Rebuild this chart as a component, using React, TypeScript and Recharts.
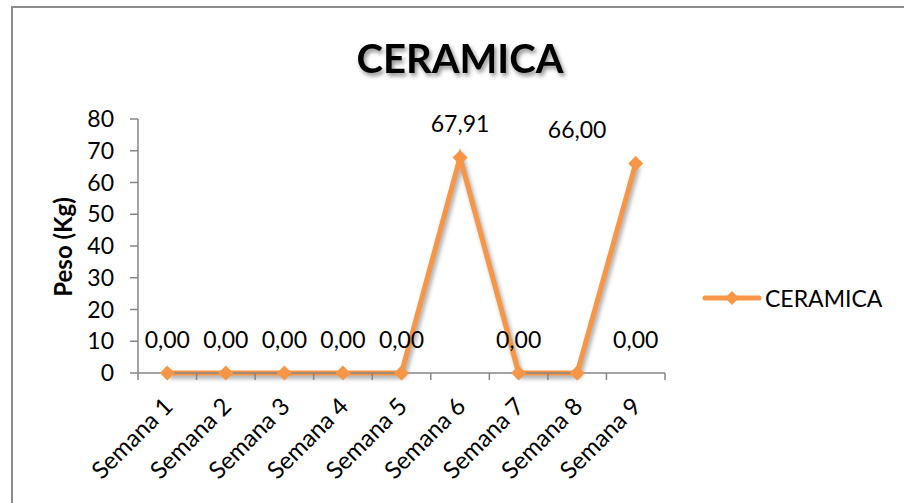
import React from 'react';
import { LineChart, Line, XAxis, YAxis, LabelList } from 'recharts';

const semanas = [
  'Semana 1',
  'Semana 2',
  'Semana 3',
  'Semana 4',
  'Semana 5',
  'Semana 6',
  'Semana 7',
  'Semana 8',
  'Semana 9',
];
const peso = [0, 0, 0, 0, 0, 67.91, 0, 0, 66];
// the data labels in the original sit on different values than the line
const etiquetas = [0, 0, 0, 0, 0, 67.91, 0, 66, 0];
const yTicks = [0, 10, 20, 30, 40, 50, 60, 70, 80];

const data = semanas.map((s, i) => ({
  semana: s,
  peso: peso[i],
  etiqueta: etiquetas[i],
}));

const NARANJA = '#F79646';
const GRIS = '#868686';
const FUENTE = 'Lato, "Open Sans", sans-serif';
const HALF_BAND = 527 / 9 / 2;

const fmt = (v: number) => v.toFixed(2).replace('.', ',');

const Diamante = ({ cx, cy, index }: any) => (
  <path
    key={`d-${index}`}
    d={`M${cx},${cy - 7.5} L${cx + 7.5},${cy} L${cx},${cy + 7.5} L${cx - 7.5},${cy} Z`}
    fill={NARANJA}
  />
);

const XTick = ({ x, y, payload, index }: any) => (
  <g>
    <line x1={x - HALF_BAND} x2={x - HALF_BAND} y1={y} y2={y + 7} stroke={GRIS} strokeWidth={1.5} />
    {index === semanas.length - 1 && (
      <line x1={x + HALF_BAND} x2={x + HALF_BAND} y1={y} y2={y + 7} stroke={GRIS} strokeWidth={1.5} />
    )}
    <text
      x={x + 7}
      y={y + 35}
      transform={`rotate(-45, ${x + 7}, ${y + 35})`}
      textAnchor="end"
      fontSize={24}
      fontFamily={FUENTE}
      fill="#000"
    >
      {payload.value}
    </text>
  </g>
);

export default function App() {
  return (
    <div style={{ position: 'absolute', left: 0, top: 0, width: 904, height: 503, background: '#fff' }}>
      <style>{`.serie .recharts-line-curve, .serie .recharts-line-dots path { filter: drop-shadow(2px 3px 2px rgba(0,0,0,0.35)); }`}</style>
      <LineChart
        width={904}
        height={503}
        data={data}
        margin={{ top: 119, right: 239, bottom: 0, left: 0 }}
      >
        <XAxis
          dataKey="semana"
          height={130}
          interval={0}
          padding={{ left: HALF_BAND, right: HALF_BAND }}
          tickLine={false}
          tickSize={0}
          tickMargin={0}
          axisLine={{ stroke: GRIS, strokeWidth: 1.5 }}
          tick={<XTick />}
        />
        <YAxis
          width={138}
          domain={[0, 80]}
          ticks={yTicks}
          interval={0}
          tickSize={8}
          tickMargin={16}
          axisLine={{ stroke: GRIS, strokeWidth: 1.5 }}
          tickLine={{ stroke: GRIS, strokeWidth: 1.5 }}
          tick={{ fill: '#000', fontSize: 23, fontFamily: FUENTE }}
        />
        <Line
          className="serie"
          type="linear"
          dataKey="peso"
          name="CERAMICA"
          stroke={NARANJA}
          strokeWidth={5}
          dot={<Diamante />}
          activeDot={false}
          isAnimationActive={false}
        />
        <Line
          type="linear"
          dataKey="etiqueta"
          stroke="none"
          dot={false}
          activeDot={false}
          legendType="none"
          isAnimationActive={false}
        >
          <LabelList
            dataKey="etiqueta"
            position="top"
            offset={25}
            formatter={(v: any) => fmt(Number(v))}
            fill="#000"
            fontSize={23}
            fontFamily={FUENTE}
          />
        </Line>
      </LineChart>
      <div
        style={{
          position: 'absolute',
          left: 702,
          top: 286,
          display: 'flex',
          alignItems: 'center',
          pointerEvents: 'none',
        }}
      >
        <svg width={60} height={24}>
          <line x1={3} x2={57} y1={12} y2={12} stroke={NARANJA} strokeWidth={5} strokeLinecap="round" />
          <path d="M30,5 L37,12 L30,19 L23,12 Z" fill={NARANJA} />
        </svg>
        <span style={{ fontFamily: FUENTE, fontSize: 23, color: '#000', marginLeft: 3, lineHeight: '24px' }}>
          CERAMICA
        </span>
      </div>
      <svg
        width={904}
        height={503}
        style={{ position: 'absolute', left: 0, top: 0, pointerEvents: 'none' }}
      >
        <defs>
          <filter id="sombra" x="-10%" y="-30%" width="130%" height="180%">
            <feDropShadow dx={2} dy={3} stdDeviation={2} floodColor="#000" floodOpacity={0.45} />
          </filter>
        </defs>
        <rect x={12} y={7} width={1000} height={1000} fill="none" stroke="#8c8c8c" strokeWidth={2} />
        <text
          x={460}
          y={73}
          textAnchor="middle"
          fontSize={40}
          fontWeight={700}
          fontFamily={FUENTE}
          fill="#000"
          filter="url(#sombra)"
        >
          CERAMICA
        </text>
        <text
          transform="translate(72,247) rotate(-90)"
          textAnchor="middle"
          fontSize={24}
          fontWeight={700}
          fontFamily={FUENTE}
          fill="#000"
        >
          Peso (Kg)
        </text>
      </svg>
    </div>
  );
}
